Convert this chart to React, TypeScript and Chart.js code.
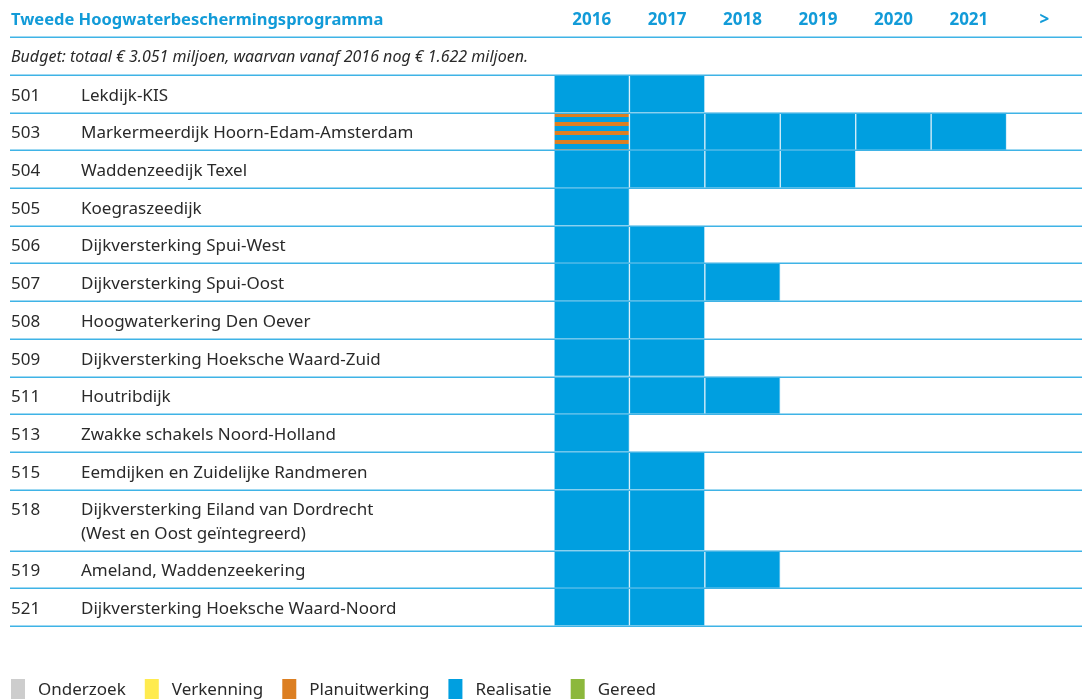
import React, { useEffect, useRef } from 'react';
import { Chart, registerables } from 'chart.js';

Chart.register(...registerables);

const title = 'Tweede Hoogwaterbeschermingsprogramma';
const budget = 'Budget: totaal € 3.051 miljoen, waarvan vanaf 2016 nog € 1.622 miljoen.';
const years = ['2016', '2017', '2018', '2019', '2020', '2021', '>'];
const codes = ['501', '503', '504', '505', '506', '507', '508', '509', '511', '513', '515', '518', '519', '521'];
const names: string[][] = [
  ['Lekdijk-KIS'],
  ['Markermeerdijk Hoorn-Edam-Amsterdam'],
  ['Waddenzeedijk Texel'],
  ['Koegraszeedijk'],
  ['Dijkversterking Spui-West'],
  ['Dijkversterking Spui-Oost'],
  ['Hoogwaterkering Den Oever'],
  ['Dijkversterking Hoeksche Waard-Zuid'],
  ['Houtribdijk'],
  ['Zwakke schakels Noord-Holland'],
  ['Eemdijken en Zuidelijke Randmeren'],
  ['Dijkversterking Eiland van Dordrecht', '(West en Oost geïntegreerd)'],
  ['Ameland, Waddenzeekering'],
  ['Dijkversterking Hoeksche Waard-Noord'],
];
// phase per year column: R = Realisatie, PR = Planuitwerking + Realisatie
const phases: string[][] = [
  ['R', 'R'],
  ['PR', 'R', 'R', 'R', 'R', 'R'],
  ['R', 'R', 'R', 'R'],
  ['R'],
  ['R', 'R'],
  ['R', 'R', 'R'],
  ['R', 'R'],
  ['R', 'R'],
  ['R', 'R', 'R'],
  ['R'],
  ['R', 'R'],
  ['R', 'R'],
  ['R', 'R', 'R'],
  ['R', 'R'],
];
const legendLabels = ['Onderzoek', 'Verkenning', 'Planuitwerking', 'Realisatie', 'Gereed'];
const legendKeys = ['O', 'V', 'P', 'R', 'G'];

const COLORS: Record<string, string> = {
  O: '#cdcdcd',
  V: '#ffeb4f',
  P: '#dc7f22',
  R: '#009fe0',
  G: '#8cb83c',
};
const LINE = '#3fb3e6';
const BLUE_TEXT = '#129bd8';
const TEXT = '#2a2a2a';
const FONT = '"Noto Sans", sans-serif';
const EXTRA_LINE_UNITS = 0.62;

export default function App() {
  const ref = useRef<HTMLCanvasElement>(null);

  useEffect(() => {
    const canvas = ref.current!;
    // striped pattern for Planuitwerking + Realisatie
    const pc = document.createElement('canvas');
    pc.width = 4;
    pc.height = 9;
    const pctx = pc.getContext('2d')!;
    pctx.fillStyle = COLORS.R;
    pctx.fillRect(0, 0, 4, 9);
    pctx.fillStyle = COLORS.P;
    pctx.fillRect(0, 5, 4, 4);
    const pattern = canvas.getContext('2d')!.createPattern(pc, 'repeat')!;

    // row extents in row units
    const starts: number[] = [];
    const ends: number[] = [];
    let acc = 0;
    names.forEach((n) => {
      starts.push(acc);
      acc += 1 + EXTRA_LINE_UNITS * (n.length - 1);
      ends.push(acc);
    });
    const total = acc;

    const datasets = codes.map((code, i) => ({
      label: code,
      data: years.map((_, j) => (phases[i][j] ? [starts[i], ends[i]] : null)),
      backgroundColor: (ctx: any) => {
        const p = phases[i][ctx.dataIndex];
        return p === 'PR' ? pattern : COLORS[p] || COLORS.R;
      },
      borderColor: '#d6eef9',
      borderWidth: 1,
      borderSkipped: false,
      grouped: false,
      barPercentage: 1,
      categoryPercentage: 1,
    }));

    const textPlugin = {
      id: 'tableText',
      afterDatasetsDraw(chart: any) {
        const { ctx, scales, chartArea } = chart;
        const y = scales.y;
        const x = scales.x;
        const unit = y.getPixelForValue(1) - y.getPixelForValue(0);
        ctx.save();
        // lines
        ctx.strokeStyle = LINE;
        ctx.lineWidth = 1.5;
        const lineVals = [-1, 0, ...ends];
        lineVals.forEach((v) => {
          const py = Math.round(y.getPixelForValue(v)) + 0.25;
          ctx.beginPath();
          ctx.moveTo(10, py);
          ctx.lineTo(chart.width, py);
          ctx.stroke();
        });
        // header
        ctx.textBaseline = 'middle';
        ctx.fillStyle = BLUE_TEXT;
        ctx.textAlign = 'left';
        const hy = y.getPixelForValue(-1.5) + 2;
        ctx.font = `bold 16.5px ${FONT}`;
        ctx.fillText(title, 11, hy);
        ctx.font = `bold 17px ${FONT}`;
        ctx.textAlign = 'center';
        years.forEach((yr, j) => ctx.fillText(yr, x.getPixelForValue(j), hy));
        ctx.textAlign = 'left';
        ctx.fillStyle = TEXT;
        ctx.font = `italic 16px ${FONT}`;
        ctx.fillText(budget, 11, y.getPixelForValue(-0.5) + 1);
        // rows
        ctx.font = `17px ${FONT}`;
        codes.forEach((code, i) => {
          const cy = y.getPixelForValue(starts[i]) + unit / 2 + 2;
          ctx.fillText(code, 11, cy);
          names[i].forEach((line, k) => ctx.fillText(line, 81, cy + k * 24));
        });
        // legend
        let lx = 11;
        const boxTop = chartArea.bottom + 53;
        legendKeys.forEach((k, i) => {
          ctx.fillStyle = COLORS[k];
          ctx.fillRect(lx, boxTop, 14, 22);
          lx += 14 + 13;
          ctx.fillStyle = TEXT;
          ctx.fillText(legendLabels[i], lx, boxTop + 11);
          lx += ctx.measureText(legendLabels[i]).width + 19;
        });
        ctx.restore();
      },
    };

    const chart = new Chart(canvas, {
      type: 'bar',
      data: { labels: years, datasets: datasets as any },
      options: {
        animation: false,
        responsive: false,
        maintainAspectRatio: false,
        layout: { padding: { left: 554, top: 75, right: 0, bottom: 73 } },
        plugins: { legend: { display: false }, tooltip: { enabled: false } },
        scales: {
          x: { type: 'category', display: false, offset: true },
          y: { type: 'linear', display: false, min: 0, max: total, reverse: true },
        },
      },
      plugins: [textPlugin],
    });
    return () => chart.destroy();
  }, []);

  return (
    <div style={{ position: 'fixed', left: 0, top: 0, width: 1082, height: 699, background: '#fff' }}>
      <canvas ref={ref} width={1082} height={699} />
    </div>
  );
}
